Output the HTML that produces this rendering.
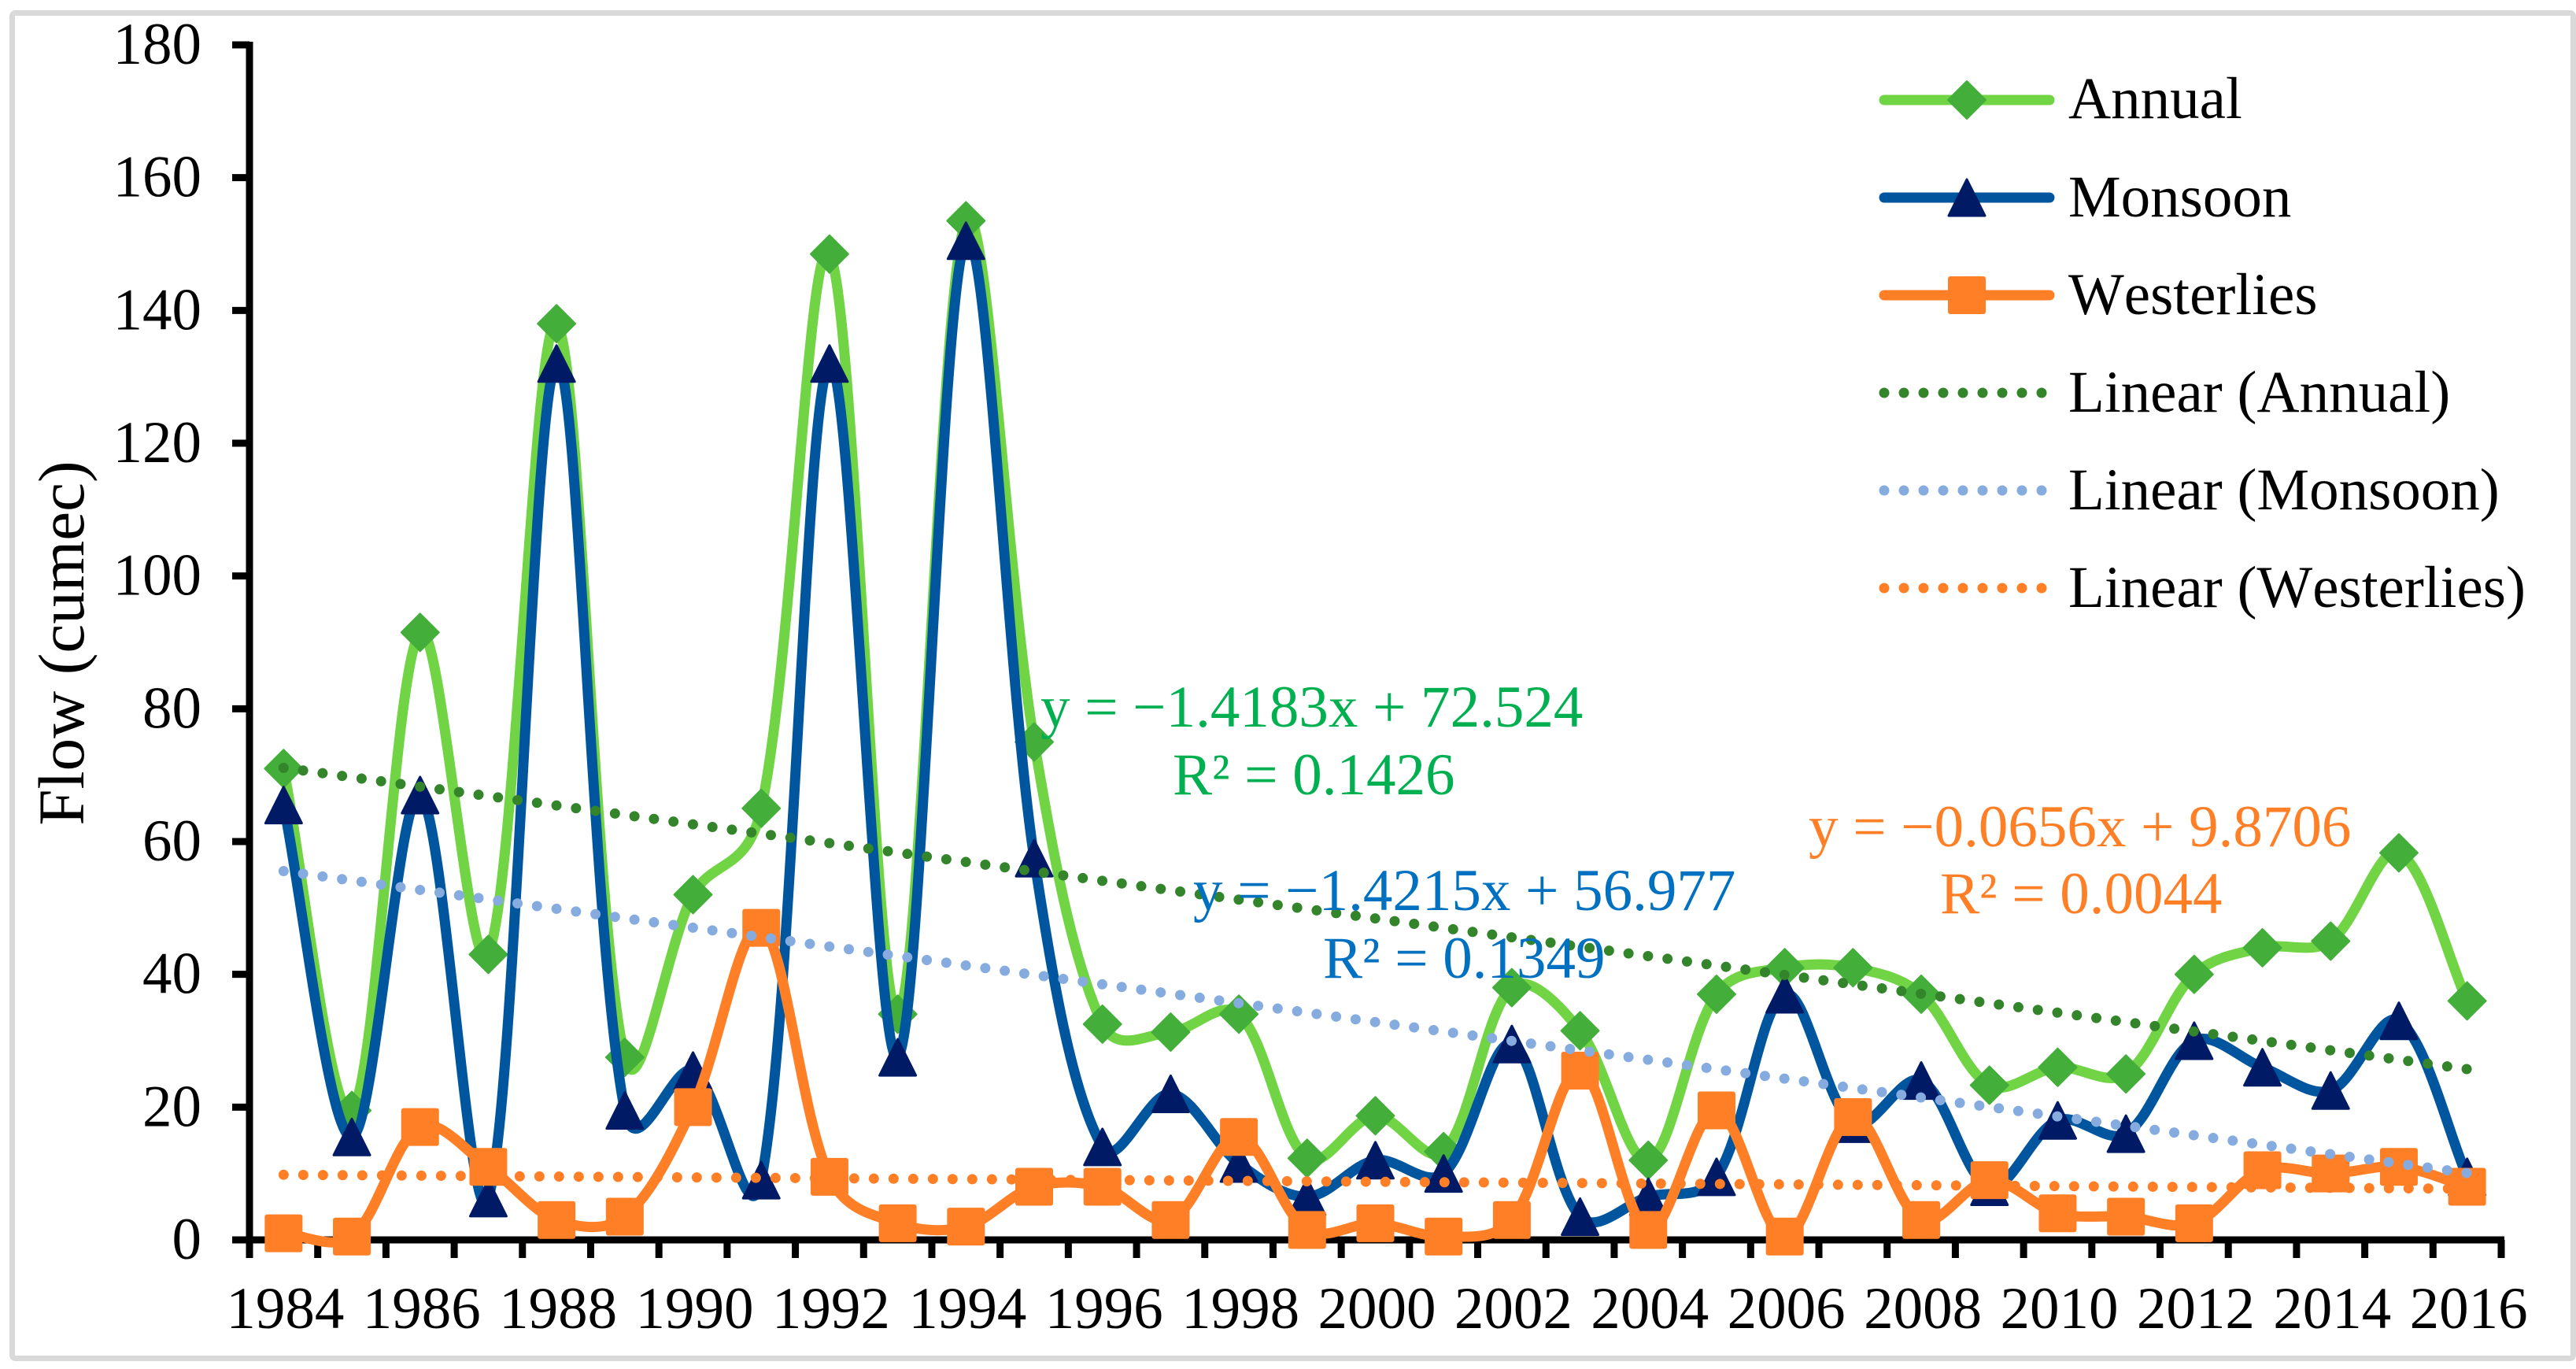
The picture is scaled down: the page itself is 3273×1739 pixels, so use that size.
<!DOCTYPE html>
<html lang="en">
<head>
<meta charset="utf-8">
<title>Flow trend chart</title>
<style>
html,body{margin:0;padding:0;background:#fff;}
#chart{display:block;width:3273px;height:1739px;}
text{font-family:"Liberation Serif","Times New Roman",serif;font-size:75px;fill:#000;font-kerning:none;}
</style>
</head>
<body>
<svg id="chart" xmlns="http://www.w3.org/2000/svg" width="3273" height="1739" viewBox="0 0 3273 1739">
  <rect x="0" y="0" width="3273" height="1739" fill="#ffffff"/>
  <rect x="15.5" y="16.5" width="3254" height="1709" rx="4" fill="none" stroke="#d9d9d9" stroke-width="7"/>
  <g id="series-layer"></g>
  <g id="trend-layer"></g>
  <g id="axis-layer"></g>
  <text transform="translate(106,817) rotate(-90)" text-anchor="middle" style="font-size:83px">Flow (cumec)</text>

  <text x="1322" y="923" style="fill:#00b050">y = −1.4183x + 72.524</text>
  <text x="1490" y="1009" style="fill:#00b050">R² = 0.1426</text>
  <text x="1516" y="1156" style="fill:#0070c0">y = −1.4215x + 56.977</text>
  <text x="1681" y="1242" style="fill:#0070c0">R² = 0.1349</text>
  <text x="2298" y="1075" style="fill:#ff7f27">y = −0.0656x + 9.8706</text>
  <text x="2465" y="1160" style="fill:#ff7f27">R² = 0.0044</text>

  <g>
    <g>
      <line x1="2394" y1="127" x2="2604" y2="127" stroke="#70d444" stroke-width="13" stroke-linecap="round"/>
      <polygon points="2499,103 2523,127 2499,151 2475,127" fill="#43ae3a" stroke="#43ae3a" stroke-width="2" stroke-linejoin="round"/>
      <text x="2628" y="150">Annual</text>
    </g>
    <g>
      <line x1="2394" y1="251" x2="2604" y2="251" stroke="#00569e" stroke-width="13" stroke-linecap="round"/>
      <polygon points="2499,228 2522,274 2476,274" fill="#001a66" stroke="#001a66" stroke-width="3" stroke-linejoin="round"/>
      <text x="2628" y="275">Monsoon</text>
    </g>
    <g>
      <line x1="2394" y1="375" x2="2604" y2="375" stroke="#ff7f27" stroke-width="13" stroke-linecap="round"/>
      <rect x="2475" y="351" width="48" height="48" rx="3" fill="#ff7f27"/>
      <text x="2628" y="399">Westerlies</text>
    </g>
    <g>
      <line x1="2394" y1="499" x2="2596" y2="499" stroke="#33842b" stroke-width="13" stroke-linecap="round" stroke-dasharray="0 25"/>
      <text x="2628" y="523">Linear (Annual)</text>
    </g>
    <g>
      <line x1="2394" y1="623" x2="2596" y2="623" stroke="#86abdf" stroke-width="13" stroke-linecap="round" stroke-dasharray="0 25"/>
      <text x="2628" y="647">Linear (Monsoon)</text>
    </g>
    <g>
      <line x1="2394" y1="747" x2="2596" y2="747" stroke="#ff7f27" stroke-width="13" stroke-linecap="round" stroke-dasharray="0 25"/>
      <text x="2628" y="771">Linear (Westerlies)</text>
    </g>
  </g>
</svg>
<script>
const years = [1984,1985,1986,1987,1988,1989,1990,1991,1992,1993,1994,1995,1996,1997,1998,1999,2000,2001,2002,2003,2004,2005,2006,2007,2008,2009,2010,2011,2012,2013,2014,2015,2016];
const annualValues = [71,19.5,91.5,43,138,27.5,52,65,148.5,34,153.5,75,32.5,31.3,34,12.3,18.7,13.3,38,31.5,12,37,41,41,37,23.3,26,25,40,44,45,58.3,36];
const monsoonValues = [65.5,15.5,67,6.3,132,19.5,25.5,9,132,27.5,150.5,57.5,14,22,11.5,6.5,12,10,29.5,3.5,6.5,9.5,37,17.5,24,8,18,16,30,26,22.5,33,9.5];
const westerliesValues = [1,0.5,17,11,3,3.5,20,47,9.5,2.5,2,8,8,3,15.5,1.5,2.5,0.5,3,25.5,1.5,19.5,0.5,18.5,3,9,4,3.5,2.5,10.5,10,11,8];
const annualTrend = [-1.4183,72.524];
const monsoonTrend = [-1.4215,56.977];
const westerliesTrend = [-0.0656,9.8706];
const yTicks = [0,20,40,60,80,100,120,140,160,180];
const xTickYears = [1984,1986,1988,1990,1992,1994,1996,1998,2000,2002,2004,2006,2008,2010,2012,2014,2016];

const NS = 'http://www.w3.org/2000/svg';
const PLOT_LEFT = 317, PLOT_RIGHT = 3178, Y_ZERO = 1575, Y_TOP = 57, Y_MAX = 180;
const STEP = (PLOT_RIGHT - PLOT_LEFT) / years.length;
function xPos(i){ return PLOT_LEFT + STEP * (i + 0.5); }
function yPos(v){ return Y_ZERO - (Y_ZERO - Y_TOP) * v / Y_MAX; }
function make(tag, attrs, parent){
  const el = document.createElementNS(NS, tag);
  Object.keys(attrs).forEach(function(k){ el.setAttribute(k, attrs[k]); });
  parent.appendChild(el);
  return el;
}
function dist(a,b){ return Math.hypot(a[0]-b[0], a[1]-b[1]); }
function handle(da, db){
  const chord = da > 0 ? da / (da + db) / 3 : 1/3;
  return 0.6 * chord + 0.4 / 6;
}
function smoothPath(vals){
  const p = vals.map(function(v,i){ return [xPos(i), yPos(v)]; });
  let d = 'M' + p[0][0].toFixed(1) + ' ' + p[0][1].toFixed(1);
  for (let i = 0; i < p.length - 1; i++){
    const p0 = p[Math.max(i-1,0)], p1 = p[i], p2 = p[i+1], p3 = p[Math.min(i+2,p.length-1)];
    const d01 = dist(p0,p1), d12 = dist(p1,p2), d23 = dist(p2,p3);
    const s1 = handle(d12, d01);
    const s2 = handle(d12, d23);
    const c1x = p1[0] + (p2[0]-p0[0]) * s1, c1y = p1[1] + (p2[1]-p0[1]) * s1;
    const c2x = p2[0] - (p3[0]-p1[0]) * s2, c2y = p2[1] - (p3[1]-p1[1]) * s2;
    d += 'C' + c1x.toFixed(1) + ' ' + c1y.toFixed(1) + ' ' + c2x.toFixed(1) + ' ' + c2y.toFixed(1) + ' ' + p2[0].toFixed(1) + ' ' + p2[1].toFixed(1);
  }
  return d;
}
const seriesLayer = document.getElementById('series-layer');
const trendLayer = document.getElementById('trend-layer');
const axisLayer = document.getElementById('axis-layer');

/* series */
function drawSeries(vals, lineColor, drawMarker){
  const g = make('g',{},seriesLayer);
  
  
  const path = make('path',{d:smoothPath(vals),fill:'none',stroke:lineColor,'stroke-width':13,'stroke-linejoin':'round','stroke-linecap':'round'},g);
  
  
  vals.forEach(function(v,i){
    const m = drawMarker(xPos(i), yPos(v), g);
    
    
  });
}
function diamond(x,y,g){
  return make('polygon',{points:x+','+(y-24)+' '+(x+24)+','+y+' '+x+','+(y+24)+' '+(x-24)+','+y,fill:'#43ae3a',stroke:'#43ae3a','stroke-width':2,'stroke-linejoin':'round'},g);
}
function triangle(x,y,g){
  return make('polygon',{points:x+','+(y-23)+' '+(x+23)+','+(y+23)+' '+(x-23)+','+(y+23),fill:'#001a66',stroke:'#001a66','stroke-width':3,'stroke-linejoin':'round'},g);
}
function square(x,y,g){
  return make('rect',{x:x-24,y:y-24,width:48,height:48,rx:3,fill:'#ff7f27'},g);
}
/* axes drawn beneath the series */
const yAxisLine = make('line',{x1:PLOT_LEFT,y1:Y_TOP-4,x2:PLOT_LEFT,y2:Y_ZERO+23,stroke:'#000','stroke-width':9},axisLayer);


const xAxisLine = make('line',{x1:PLOT_LEFT,y1:Y_ZERO,x2:PLOT_RIGHT+4,y2:Y_ZERO,stroke:'#000','stroke-width':9},axisLayer);


yTicks.forEach(function(t){
  const tick = make('line',{x1:295,y1:yPos(t),x2:PLOT_LEFT,y2:yPos(t),stroke:'#000','stroke-width':9},axisLayer);
  
  
  const label = make('text',{x:256,y:yPos(t)+24,'text-anchor':'end'},axisLayer);
  
  
  label.textContent = t;
});
years.forEach(function(y,i){
  const tx = PLOT_LEFT + STEP * (i + 1);
  const tick = make('line',{x1:tx,y1:Y_ZERO,x2:tx,y2:1598,stroke:'#000','stroke-width':9},axisLayer);
  
  
});
xTickYears.forEach(function(y){
  const i = years.indexOf(y);
  const label = make('text',{x:xPos(i)+2,y:1687,'text-anchor':'middle'},axisLayer);
  
  
  label.textContent = y;
});
document.getElementById('chart').insertBefore(axisLayer, seriesLayer);

drawSeries(annualValues,'#70d444',diamond);
drawSeries(monsoonValues,'#00569e',triangle);
drawSeries(westerliesValues,'#ff7f27',square);

/* linear trendlines */
function drawTrend(coef, color){
  const n = years.length;
  const line = make('line',{x1:xPos(0),y1:yPos(coef[0]+coef[1]),x2:xPos(n-1),y2:yPos(coef[0]*n+coef[1]),stroke:color,'stroke-width':13,'stroke-linecap':'round','stroke-dasharray':'0 25'},trendLayer);
  
  
}
drawTrend(annualTrend,'#33842b');
drawTrend(monsoonTrend,'#86abdf');
drawTrend(westerliesTrend,'#ff7f27');
</script>
</body>
</html>
